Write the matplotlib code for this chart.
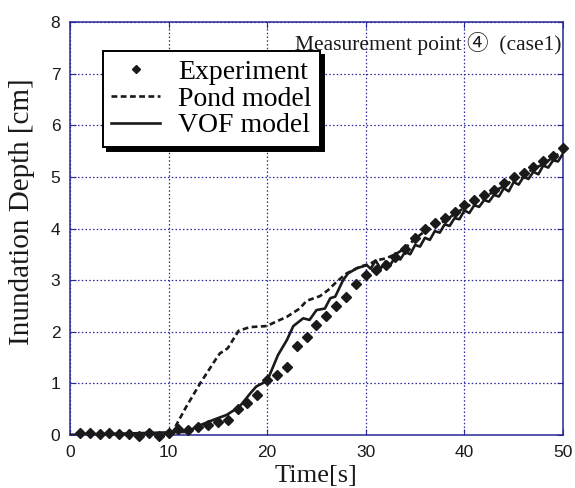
"""Inundation depth at measurement point 4 (case1)."""

import matplotlib
import matplotlib.pyplot as plt
from matplotlib import font_manager

matplotlib.use("Agg")

# Experiment, sampled every second
exp_time = list(range(1, 51))
exp_depth = [
    0.03, 0.03, 0.01, 0.04, 0.02, 0.02, -0.01, 0.03, -0.01, 0.04,
    0.12, 0.10, 0.15, 0.20, 0.25, 0.30, 0.50, 0.62, 0.78, 1.07,
    1.16, 1.32, 1.72, 1.90, 2.13, 2.31, 2.50, 2.68, 2.92, 3.09,
    3.20, 3.30, 3.45, 3.60, 3.82, 4.00, 4.10, 4.20, 4.32, 4.45,
    4.55, 4.65, 4.75, 4.88, 5.00, 5.08, 5.20, 5.30, 5.40, 5.55,
]

# Pond model
pond_time = [
    0, 10.3, 10.8, 11.8, 13.2, 14.9, 15.2, 16.0, 17.1, 18.25, 19.95,
    20.95, 22.0, 23.3, 24.0, 25.35, 26.2, 27.05, 28.05, 29.4, 30.5,
    31.0, 32, 33, 34, 35, 36, 37, 38, 39, 40, 41, 42, 43, 44, 45,
    46, 47, 48, 49, 50,
]
pond_depth = [
    0.0, 0.0, 0.2, 0.55, 1.0, 1.5, 1.58, 1.68, 2.02, 2.09, 2.11,
    2.2, 2.29, 2.45, 2.6, 2.69, 2.81, 2.97, 3.13, 3.26, 3.32,
    3.38, 3.42, 3.5, 3.62, 3.8, 3.95, 4.05, 4.15, 4.28, 4.4, 4.5,
    4.6, 4.72, 4.82, 4.95, 5.05, 5.15, 5.25, 5.38, 5.5,
]

# VOF model
vof_time = [
    0, 11.8, 13.2, 14.5, 15.9, 17.2, 18.3, 18.9, 20.0, 21.1, 22.0,
    22.65, 23.65, 24.3, 25.0, 25.85, 26.4, 26.9, 27.7, 28.2, 29.1,
    30.1, 30.5, 31.0, 31.5, 32.0, 32.5, 33.0, 33.5, 34.0, 34.5, 35.0,
    35.5, 36.0, 36.5, 37.0, 37.5, 38.0, 38.5, 39.0, 39.5, 40.0, 40.5,
    41.0, 41.5, 42.0, 42.5, 43.0, 43.5, 44.0, 44.5, 45.0, 45.5, 46.0,
    46.5, 47.0, 47.5, 48.0, 48.5, 49.0, 49.5, 50.0,
]
vof_depth = [
    0.0, 0.06, 0.19, 0.29, 0.39, 0.55, 0.81, 0.94, 1.05, 1.55, 1.84,
    2.11, 2.26, 2.23, 2.42, 2.45, 2.65, 2.68, 3.0, 3.13, 3.23,
    3.29, 3.22, 3.38, 3.22, 3.36, 3.3, 3.45, 3.4, 3.55, 3.5, 3.68,
    3.65, 3.82, 3.78, 3.95, 3.92, 4.08, 4.05, 4.2, 4.18, 4.35, 4.3,
    4.45, 4.42, 4.55, 4.52, 4.65, 4.62, 4.78, 4.72, 4.9, 4.85, 5.0,
    4.96, 5.1, 5.05, 5.22, 5.18, 5.32, 5.3, 5.45,
]

x_ticks = [0, 10, 20, 30, 40, 50]
y_ticks = [0, 1, 2, 3, 4, 5, 6, 7, 8]

NAVY = "#28289a"
INK = "#1a1a1a"

installed = {f.name for f in font_manager.fontManager.ttflist}
tick_family = "Liberation Sans Narrow" if "Liberation Sans Narrow" in installed else "Liberation Sans"
serif = ["Liberation Serif", "DejaVu Serif"]

fig = plt.figure(figsize=(5.75, 4.88), dpi=100)
ax = fig.add_axes([0.1217, 0.1086, 0.8574, 0.8463])

ax.plot(pond_time, pond_depth, color=INK, lw=1.9,
        linestyle=(0, (2.2, 1.3)), label="Pond model", zorder=3)
ax.plot(vof_time, vof_depth, color=INK, lw=1.9, label="VOF model", zorder=3)
ax.plot(exp_time, exp_depth, linestyle="none", marker="D", ms=5.6,
        color=INK, label="Experiment", clip_on=False, zorder=4)

ax.set_xlim(0, 50)
ax.set_ylim(0, 8)
ax.set_xticks(x_ticks)
ax.set_yticks(y_ticks)
ax.grid(True, color=NAVY, linestyle=(0, (1.2, 1.8)), lw=0.9)
for s in ax.spines.values():
    s.set_color(NAVY)
    s.set_linewidth(1.1)
ax.tick_params(direction="in", length=4, color=NAVY, top=True, right=True,
               labelsize=12.5, pad=7, labelcolor=INK)
for lbl in ax.get_xticklabels() + ax.get_yticklabels():
    lbl.set_family(tick_family)

ax.set_xlabel("Time[s]", family=serif, fontsize=19, labelpad=4, color=INK)
ax.set_ylabel("Inundation Depth [cm]", family=serif, fontsize=21, color=INK)
ax.yaxis.set_label_coords(-0.07, 0.54)

ax.text(0.997, 0.975, "Measurement point \u2463  (case1)",
        transform=ax.transAxes, ha="right", va="top", fontsize=15.5,
        family=["Liberation Serif", "Noto Sans CJK JP", "DejaVu Sans"],
        color=INK)

handles, labels = ax.get_legend_handles_labels()
order = [2, 0, 1]
leg = ax.legend([handles[i] for i in order], [labels[i] for i in order],
                loc="upper left", bbox_to_anchor=(0.067, 0.93),
                borderaxespad=0, prop={"family": serif, "size": 20},
                frameon=True, fancybox=False, edgecolor="black",
                framealpha=1, handlelength=1.75, handletextpad=0.65,
                labelspacing=0.05, borderpad=0.3, markerscale=0.7,
                shadow={"color": "black", "alpha": 1, "ox": 3, "oy": -3})
leg.get_frame().set_linewidth(1.4)

fig.savefig("out.png", dpi=100)
